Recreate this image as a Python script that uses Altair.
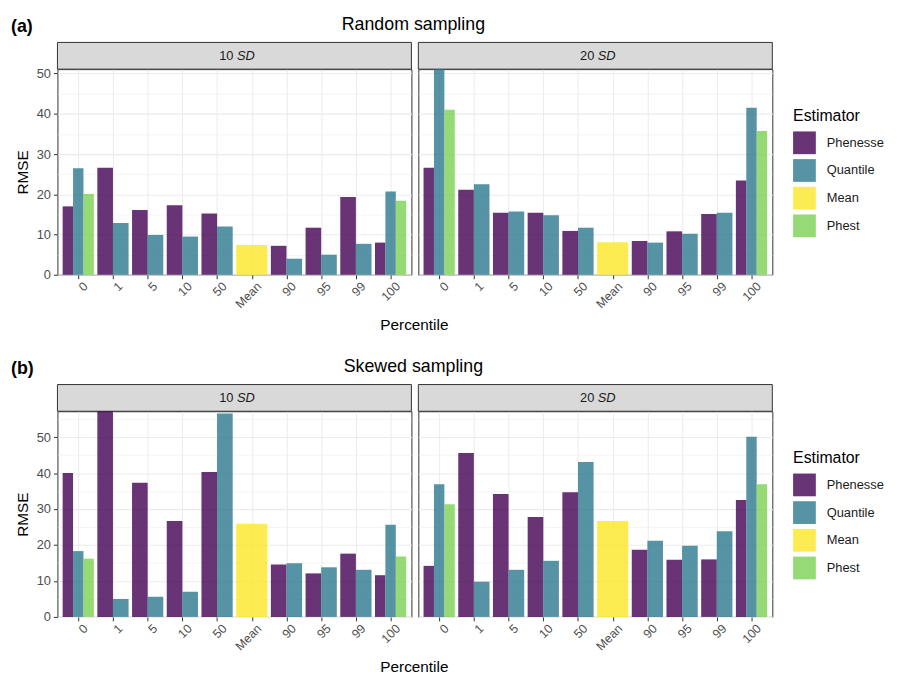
import altair as alt
import pandas as pd

# ---------------- data ----------------
percentiles = ["0", "1", "5", "10", "50", "Mean", "90", "95", "99", "100"]
estimators = ["Phenesse", "Quantile", "Mean", "Phest"]
colors = ["#440154", "#2A788E", "#FDE725", "#7AD151"]
samplings = ["Random sampling", "Skewed sampling"]
sd_levels = ["10", "20"]

# Random sampling, 10 SD
rand10_phenesse = [17.0, 26.6, 16.1, 17.3, 15.2, None, 7.2, 11.7, 19.3, 8.0]
rand10_quantile = [26.5, 12.9, 9.9, 9.5, 12.0, None, 4.0, 5.0, 7.7, 20.7]
rand10_mean = [None, None, None, None, None, 7.4, None, None, None, None]
rand10_phest = [20.1, None, None, None, None, None, None, None, None, 18.4]
# Random sampling, 20 SD
rand20_phenesse = [26.6, 21.1, 15.4, 15.4, 10.9, None, 8.4, 10.8, 15.1, 23.4]
rand20_quantile = [51.1, 22.5, 15.7, 14.8, 11.7, None, 8.0, 10.2, 15.4, 41.5]
rand20_mean = [None, None, None, None, None, 8.1, None, None, None, None]
rand20_phest = [41.0, None, None, None, None, None, None, None, None, 35.7]
# Skewed sampling, 10 SD
skew10_phenesse = [40.0, 57.2, 37.3, 26.7, 40.3, None, 14.6, 12.1, 17.6, 11.6]
skew10_quantile = [18.3, 5.0, 5.6, 7.0, 56.6, None, 14.9, 13.8, 13.1, 25.6]
skew10_mean = [None, None, None, None, None, 25.9, None, None, None, None]
skew10_phest = [16.2, None, None, None, None, None, None, None, None, 16.8]
# Skewed sampling, 20 SD
skew20_phenesse = [14.2, 45.6, 34.2, 27.8, 34.7, None, 18.7, 15.9, 16.0, 32.5]
skew20_quantile = [36.9, 9.8, 13.1, 15.6, 43.1, None, 21.2, 19.8, 23.8, 50.1]
skew20_mean = [None, None, None, None, None, 26.7, None, None, None, None]
skew20_phest = [31.3, None, None, None, None, None, None, None, None, 36.9]

series = {
    ("Random sampling", "10"): [rand10_phenesse, rand10_quantile, rand10_mean, rand10_phest],
    ("Random sampling", "20"): [rand20_phenesse, rand20_quantile, rand20_mean, rand20_phest],
    ("Skewed sampling", "10"): [skew10_phenesse, skew10_quantile, skew10_mean, skew10_phest],
    ("Skewed sampling", "20"): [skew20_phenesse, skew20_quantile, skew20_mean, skew20_phest],
}

# long table with dodge positions (ggplot position_dodge, width 0.9)
rows = []
for (samp, sd), lists in series.items():
    for i, p in enumerate(percentiles):
        present = [(e, lists[k][i]) for k, e in enumerate(estimators) if lists[k][i] is not None]
        n = len(present)
        for k, (e, v) in enumerate(present):
            x0 = i - 0.45 + k * 0.9 / n
            rows.append(dict(sampling=samp, sd=sd, percentile=p, estimator=e,
                             rmse=v, x0=x0, x1=x0 + 0.9 / n))
df = pd.DataFrame(rows)

label_expr = "[" + ",".join("'%s'" % p for p in percentiles) + "][datum.value]"

W, H = 358, 208
FONT = "Liberation Sans"


def panel(samp, sd, letter, left):
    sub = df[(df.sampling == samp) & (df.sd == sd)]
    ymax = float(df[df.sampling == samp].rmse.max())
    yvals = [v for v in range(0, 100, 5) if v <= ymax]

    xaxis = alt.Axis(values=list(range(len(percentiles))), labelExpr=label_expr,
                     labelAngle=-45, labelAlign="right", labelBaseline="top",
                     labelFontSize=12.5, labelColor="#4D4D4D", labelPadding=1,
                     labelOffset=3,
                     labelFlush=False, labelOverlap=False,
                     tickColor="#333333", tickSize=4, domain=False,
                     grid=True, gridColor="#EBEBEB", gridWidth=1, title=None)
    yaxis = alt.Axis(values=yvals,
                     labelExpr="datum.value % 10 === 0 ? datum.label : ''",
                     labels=left, ticks=left,
                     tickOpacity={"condition": {"test": "datum.value % 10 !== 0", "value": 0}, "value": 1},
                     gridWidth={"condition": {"test": "datum.value % 10 !== 0", "value": 0.55}, "value": 1.1},
                     gridColor="#EBEBEB",
                     labelFontSize=13, labelColor="#4D4D4D", labelPadding=3,
                     tickColor="#333333", tickSize=4, domain=False,
                     title="RMSE" if left else None,
                     titleFontSize=15.5, titleFontWeight="normal", titleColor="#000000",
                     titlePadding=6)

    if left:
        legend = None
    else:
        legend = alt.Legend(orient="none", legendX=W + 21, legendY=39, padding=0,
                            title="Estimator", titleFontSize=16, titleFontWeight="normal",
                            titleColor="#000000", titlePadding=8,
                            labelFontSize=13, labelColor="#1A1A1A", labelOffset=11,
                            symbolType="square", symbolSize=529, symbolStrokeWidth=0,
                            rowPadding=5)

    bars = alt.Chart(sub).mark_bar(opacity=0.8).encode(
        x=alt.X("x0:Q", scale=alt.Scale(domain=[-0.6, len(percentiles) - 0.4], nice=False, zero=False), axis=xaxis),
        x2="x1:Q",
        y=alt.Y("rmse:Q", scale=alt.Scale(domain=[0, ymax], nice=False, zero=True), axis=yaxis),
        y2=alt.datum(0),
        color=alt.Color("estimator:N", scale=alt.Scale(domain=estimators, range=colors), legend=legend),
    )

    strip_df = pd.DataFrame({"num": [sd], "unit": ["SD"]})
    strip = alt.Chart(strip_df).mark_rect(fill="#D9D9D9", stroke="#333333", strokeWidth=1).encode(
        x=alt.value(0), x2=alt.value(W), y=alt.value(-27), y2=alt.value(0))
    strip_num = alt.Chart(strip_df).mark_text(align="right", baseline="middle", fontSize=13,
                                              color="#1A1A1A", font=FONT).encode(
        x=alt.value(W / 2 - 1), y=alt.value(-13), text="num:N")
    strip_unit = alt.Chart(strip_df).mark_text(align="left", baseline="middle", fontSize=13,
                                               fontStyle="italic", color="#1A1A1A", font=FONT).encode(
        x=alt.value(W / 2 + 2.5), y=alt.value(-13), text="unit:N")

    layers = [strip, strip_num, strip_unit, bars]
    if left:
        head_df = pd.DataFrame({"tag": [letter], "title": [samp], "xt": ["Percentile"]})
        tag = alt.Chart(head_df).mark_text(align="left", baseline="alphabetic", fontSize=18,
                                           fontWeight="bold", color="#000000", font=FONT).encode(
            x=alt.value(-47), y=alt.value(-38), text="tag:N")
        title = alt.Chart(head_df).mark_text(align="center", baseline="alphabetic", fontSize=18,
                                             color="#000000", font=FONT).encode(
            x=alt.value(W + 2), y=alt.value(-40), text="title:N")
        xtitle = alt.Chart(head_df).mark_text(align="center", baseline="alphabetic", fontSize=15.5,
                                              color="#000000", font=FONT).encode(
            x=alt.value(W + 3), y=alt.value(H + 56), text="xt:N")
        layers += [tag, title, xtitle]

    return alt.layer(*layers).properties(width=W, height=H)


panels = []
for samp, letter in zip(samplings, ["(a)", "(b)"]):
    panels.append(panel(samp, "10", letter, True))
    panels.append(panel(samp, "20", letter, False))

chart = alt.concat(*panels, columns=2).resolve_scale(
    color="independent", y="independent", x="independent"
).properties(
    spacing={"row": 138, "column": 7},
    bounds="flush",
    padding={"left": 2, "top": 3, "right": 4, "bottom": 2},
).configure(font=FONT).configure_view(stroke="#333333", strokeWidth=1)

chart.save("out.html", embed_options={"renderer": "svg", "actions": False})
